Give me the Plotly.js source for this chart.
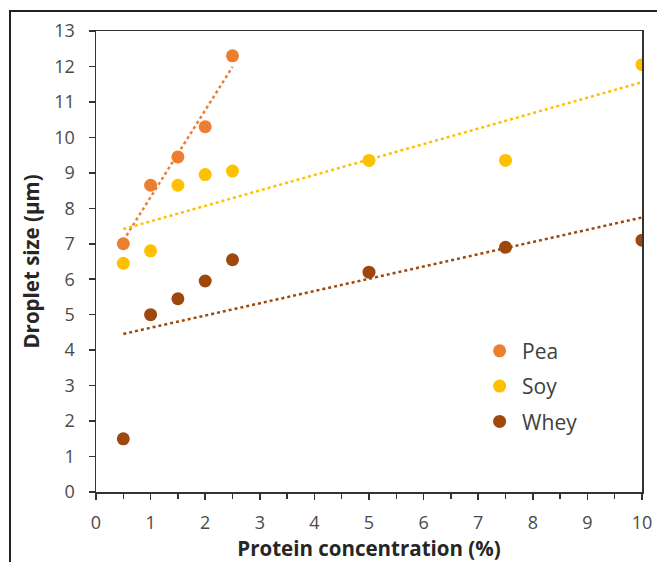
<!DOCTYPE html>
<html><head><meta charset="utf-8">
<script src="https://cdn.plot.ly/plotly-3.0.1.min.js"></script>
<style>
html,body{margin:0;padding:0;background:#fff;}
#wrap{position:relative;width:657px;height:562px;overflow:hidden;}
#chart{width:657px;height:562px;}
#frame{position:absolute;left:9px;top:10px;width:700px;height:600px;border:2px solid #222;box-sizing:border-box;pointer-events:none;}
</style></head>
<body>
<div id="wrap"><div id="chart"></div><div id="frame"></div></div>
<script>
var peaX = [0.5, 1, 1.5, 2, 2.5];
var peaY = [7.0, 8.65, 9.45, 10.3, 12.3];
var soyX = [0.5, 1, 1.5, 2, 2.5, 5, 7.5, 10];
var soyY = [6.45, 6.8, 8.65, 8.95, 9.05, 9.35, 9.35, 12.05];
var wheyX = [0.5, 1, 1.5, 2, 2.5, 5, 7.5, 10];
var wheyY = [1.5, 5.0, 5.45, 5.95, 6.55, 6.2, 6.9, 7.1];
var names = ['Pea', 'Soy', 'Whey'];
var colors = ['#ED7D31', '#FFC000', '#9E480E'];

function fit(xs, ys) {
  var n = xs.length, mx = 0, my = 0;
  for (var i = 0; i < n; i++) { mx += xs[i]; my += ys[i]; }
  mx /= n; my /= n;
  var sxy = 0, sxx = 0;
  for (var i = 0; i < n; i++) { sxy += (xs[i]-mx)*(ys[i]-my); sxx += (xs[i]-mx)*(xs[i]-mx); }
  var b = sxy / sxx, a = my - b*mx;
  var x0 = Math.min.apply(null, xs), x1 = Math.max.apply(null, xs);
  return {x: [x0, x1], y: [a + b*x0, a + b*x1]};
}

var sets = [[peaX, peaY], [soyX, soyY], [wheyX, wheyY]];
var traces = [];
sets.forEach(function(s, i) {
  var f = fit(s[0], s[1]);
  traces.push({x: f.x, y: f.y, mode: 'lines', showlegend: false, hoverinfo: 'skip',
    line: {color: colors[i], width: 2.5, dash: 'dot'}});
});
sets.forEach(function(s, i) {
  traces.push({x: s[0], y: s[1], mode: 'markers', name: names[i], legendgroup: 'g' + i,
    marker: {color: colors[i], size: 13}});
});

var FAM = 'Open Sans, Liberation Sans, sans-serif';
var tickFont = {family: FAM, size: 18, color: '#4a4a4a'};
var titleFont = {family: FAM, size: 20.5, color: '#262626'};
var layout = {
  width: 657, height: 562,
  margin: {l: 96, r: 15, t: 31, b: 70},
  paper_bgcolor: '#fff', plot_bgcolor: '#fff',
  font: tickFont,
  showlegend: true,
  legend: {x: 0.698, y: 0.35, xanchor: 'left', yanchor: 'top', bgcolor: 'rgba(0,0,0,0)',
    font: {family: FAM, size: 21, color: '#404040'},
    traceorder: 'grouped', tracegroupgap: 5, itemwidth: 35},
  xaxis: {range: [0, 10], dtick: 1, tick0: 0, showgrid: false, zeroline: false,
    showline: true, mirror: true, linecolor: '#333', linewidth: 1.5,
    ticks: 'outside', ticklen: 6, tickcolor: '#333', tickwidth: 1.5,
    minor: {dtick: 0.5, ticks: 'outside', ticklen: 5, tickcolor: '#333', tickwidth: 1.5, showgrid: false},
    tickfont: tickFont, ticklabelstandoff: 8,
    title: {text: '<b>Protein concentration (%)</b>', standoff: 2, font: titleFont}},
  yaxis: {range: [0, 13], dtick: 1, tick0: 0, showgrid: false, zeroline: false,
    showline: true, mirror: true, linecolor: '#333', linewidth: 1.5,
    ticks: 'outside', ticklen: 6, tickcolor: '#333', tickwidth: 1.5,
    tickfont: tickFont, ticklabelstandoff: 10,
    title: {text: '<b>Droplet size (µm)</b>', standoff: 9, font: titleFont}}
};
Plotly.newPlot('chart', traces, layout, {staticPlot: true, displayModeBar: false});
</script>
</body></html>
